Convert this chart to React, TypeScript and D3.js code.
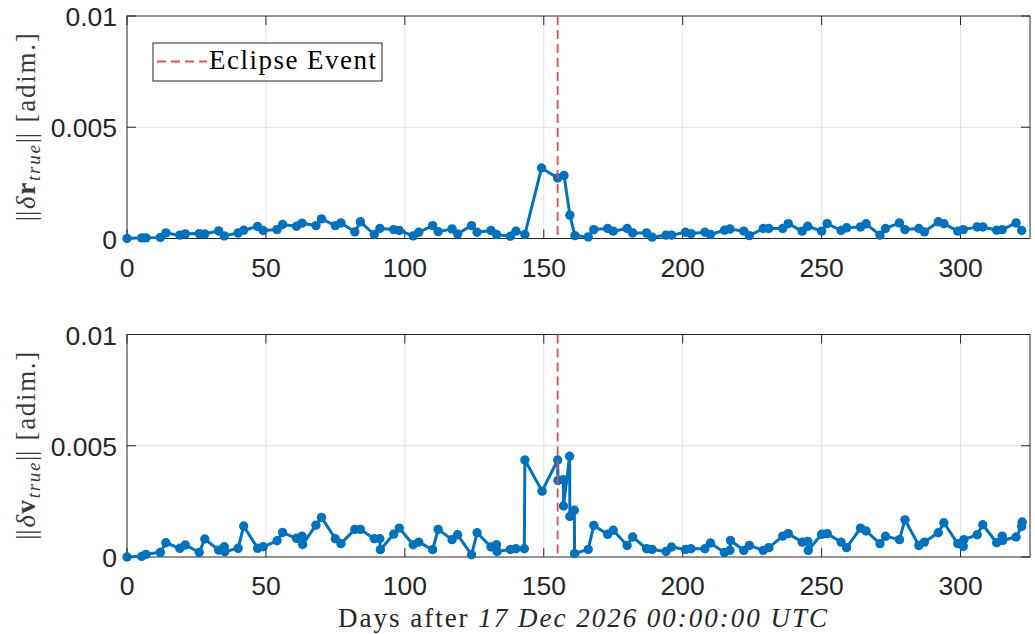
import * as d3 from "d3";

// sample days and error norms (in units of 1e-3)
const rDays = [
  0, 5.3, 6.8, 12, 14, 19, 21, 26, 28, 33, 35, 40, 42, 47, 49, 54, 56, 61, 63, 68, 70, 75, 77, 82, 84, 89, 91,
  96, 98, 103, 105, 110, 112, 117, 119, 124, 126, 131, 133, 138, 140, 143.2, 149.2, 155, 157.3, 159.4, 161.2,
  166, 168, 173, 175, 180, 182, 187, 189, 194, 196, 201, 203, 208, 210, 215, 217, 222, 224, 229, 231, 236, 238,
  243, 245, 250, 252, 257, 259, 264, 266, 271, 273, 278, 280, 285, 287, 292, 294, 299, 301, 306, 308, 313, 315,
  320, 322,
];
const rErr = [
  0, 0.03, 0.03, 0.05, 0.25, 0.15, 0.21, 0.22, 0.21, 0.34, 0.12, 0.25, 0.37, 0.54, 0.36, 0.4, 0.63, 0.55, 0.69,
  0.58, 0.88, 0.58, 0.7, 0.3, 0.75, 0.18, 0.45, 0.4, 0.36, 0.12, 0.28, 0.58, 0.31, 0.43, 0.21, 0.58, 0.28, 0.36,
  0.18, 0.1, 0.33, 0.18, 3.17, 2.72, 2.83, 1.05, 0.13, 0.07, 0.4, 0.45, 0.33, 0.45, 0.25, 0.25, 0.06, 0.15, 0.15,
  0.28, 0.22, 0.28, 0.18, 0.37, 0.43, 0.33, 0.13, 0.45, 0.45, 0.45, 0.67, 0.33, 0.55, 0.33, 0.67, 0.36, 0.48,
  0.52, 0.66, 0.15, 0.45, 0.7, 0.4, 0.45, 0.3, 0.75, 0.67, 0.33, 0.4, 0.52, 0.52, 0.37, 0.4, 0.7, 0.36,
];

const vDays = [
  0, 5.3, 6.8, 12, 14, 19, 21, 26, 28, 33, 35, 35.2, 40, 42, 47, 49, 54, 56, 61, 63, 63.2, 68, 70, 75, 77, 82, 84,
  89, 91, 91.2, 96, 98, 103, 105, 110, 112, 117, 119, 124, 126, 131, 133, 133.2, 138, 140, 143, 143.2, 149.4,
  155, 155.1, 157, 157.1, 159.3, 159.4, 161, 161.1, 166, 168, 173, 175, 180, 182, 187, 189, 194, 196, 201, 203,
  208, 210, 215, 217, 217.2, 222, 224, 229, 231, 236, 238, 243, 245, 245.2, 250, 252, 257, 259, 264, 266, 271,
  273, 278, 280, 285, 287, 292, 294, 299, 301, 301.2, 306, 308, 313, 315, 315.2, 320, 322, 322.2,
];
const vErr = [
  0, 0.03, 0.12, 0.21, 0.64, 0.39, 0.54, 0.21, 0.81, 0.31, 0.46, 0.24, 0.39, 1.39, 0.39, 0.46, 0.73, 1.1, 0.84,
  0.94, 0.56, 1.43, 1.78, 0.82, 0.6, 1.24, 1.24, 0.82, 0.82, 0.33, 1.03, 1.3, 0.55, 0.67, 0.33, 1.24, 0.78, 1.0,
  0.1, 1.09, 0.45, 0.55, 0.25, 0.34, 0.37, 0.37, 4.36, 2.96, 4.36, 3.44, 3.47, 2.29, 4.53, 1.82, 2.1, 0.15, 0.34,
  1.42, 1.02, 1.2, 0.52, 0.9, 0.37, 0.34, 0.25, 0.45, 0.34, 0.37, 0.37, 0.63, 0.2, 0.3, 0.74, 0.3, 0.52, 0.3,
  0.42, 0.94, 1.05, 0.67, 0.7, 0.3, 1.02, 1.05, 0.67, 0.42, 1.3, 1.17, 0.6, 0.93, 0.78, 1.67, 0.52, 0.67, 1.09,
  1.54, 0.6, 0.48, 0.78, 1.0, 1.45, 0.64, 0.94, 0.75, 0.9, 1.37, 1.57,
];

const xTicks = [0, 50, 100, 150, 200, 250, 300];
const yTicks = [0, 0.005, 0.01];
const yTickLabels = ["0", "0.005", "0.01"];
const eclipseDay = 155;
const legendLabel = "Eclipse Event";

const W = 1035;
const H = 634;
const left = 127;
const right = 1030;
const panelH = 222.5;
const blue = "#0072BD";
const red = "#E64D4D";
const ink = "#262626";
const sans = "'Liberation Sans', Arial, sans-serif";
const serif = "'Liberation Serif', 'DejaVu Serif', serif";

const x = d3.scaleLinear().domain([0, 325]).range([left, right]);

type PanelProps = {
  top: number;
  days: number[];
  values: number[];
  sym: string;
  legend?: boolean;
};

function Panel({ top, days, values, sym, legend }: PanelProps) {
  const y = d3.scaleLinear().domain([0, 0.01]).range([top + panelH, top]);
  const pts = days.map((d, i) => [x(d), y(values[i] * 1e-3)] as [number, number]);
  const line = d3.line()(pts) || "";
  const bottom = top + panelH;
  const tick = 9;
  return (
    <g>
      {/* grid */}
      {xTicks.slice(1).map((t) => (
        <line key={"gx" + t} x1={x(t)} x2={x(t)} y1={top} y2={bottom} stroke="#e2e2e2" strokeWidth={1} />
      ))}
      {yTicks.slice(1, 2).map((t) => (
        <line key={"gy" + t} x1={left} x2={right} y1={y(t)} y2={y(t)} stroke="#e2e2e2" strokeWidth={1} />
      ))}
      {/* ticks on all four sides */}
      {xTicks.map((t) => (
        <g key={"tx" + t} stroke={ink} strokeWidth={1}>
          <line x1={x(t)} x2={x(t)} y1={bottom} y2={bottom - tick} />
          <line x1={x(t)} x2={x(t)} y1={top} y2={top + tick} />
        </g>
      ))}
      {yTicks.map((t) => (
        <g key={"ty" + t} stroke={ink} strokeWidth={1}>
          <line x1={left} x2={left + tick} y1={y(t)} y2={y(t)} />
          <line x1={right} x2={right - tick} y1={y(t)} y2={y(t)} />
        </g>
      ))}
      <rect x={left} y={top} width={right - left} height={panelH} fill="none" stroke={ink} strokeWidth={1} />
      {/* data */}
      <path d={line} fill="none" stroke={blue} strokeWidth={3} strokeLinejoin="round" />
      {pts.map((p, i) => (
        <circle key={i} cx={p[0]} cy={p[1]} r={4.7} fill={blue} />
      ))}
      <line
        x1={x(eclipseDay)}
        x2={x(eclipseDay)}
        y1={top}
        y2={bottom}
        stroke={red}
        strokeWidth={1.8}
        strokeDasharray="9,5"
      />
      {/* tick labels */}
      {xTicks.map((t) => (
        <text key={"lx" + t} x={x(t)} y={bottom + 38} textAnchor="middle" fontFamily={sans} fontSize={26.5} fill={ink}>
          {t}
        </text>
      ))}
      {yTicks.map((t, i) => (
        <text
          key={"ly" + t}
          x={left - 10}
          y={y(t) + 10}
          textAnchor="end"
          fontFamily={sans}
          fontSize={26.5}
          fill={ink}
        >
          {yTickLabels[i]}
        </text>
      ))}
      {/* y label */}
      <text
        transform={`translate(35,${top + panelH / 2}) rotate(-90)`}
        textAnchor="middle"
        fontFamily={serif}
        fontSize={27}
        fill="#3a3a3a"
        textLength={188}
        lengthAdjust="spacing"
      >
        <tspan letterSpacing={-2}>||</tspan>
        <tspan fontStyle="italic" dx={2}>δ</tspan>
        <tspan fontWeight="bold">{sym}</tspan>
        <tspan fontStyle="italic" fontSize={19} dy={5}>
          true
        </tspan>
        <tspan dy={-5} letterSpacing={-2}>||</tspan>
        <tspan dx={2}> [adim.]</tspan>
      </text>
      {legend && (
        <g>
          <rect x={153} y={43} width={229} height={38} fill="#fff" stroke={ink} strokeWidth={1} />
          <line x1={157} x2={207} y1={61.5} y2={61.5} stroke={red} strokeWidth={1.8} strokeDasharray="9,5" />
          <text x={209} y={69} fontFamily={serif} fontSize={27} fill="#000" textLength={167} lengthAdjust="spacing">
            {legendLabel}
          </text>
        </g>
      )}
    </g>
  );
}

export default function App() {
  return (
    <svg
      width={W}
      height={H}
      viewBox={`0 0 ${W} ${H}`}
      style={{ position: "absolute", left: 0, top: 0, display: "block", background: "#fff" }}
    >
      <rect width={W} height={H} fill="#fff" />
      <Panel top={16} days={rDays} values={rErr} sym="r" legend />
      <Panel top={334.5} days={vDays} values={vErr} sym="v" />
      <text x={338} y={627} fontFamily={serif} fontSize={27} fill={ink} textLength={489} lengthAdjust="spacing">
        Days after <tspan fontStyle="italic">17 Dec 2026 00:00:00 UTC</tspan>
      </text>
    </svg>
  );
}
